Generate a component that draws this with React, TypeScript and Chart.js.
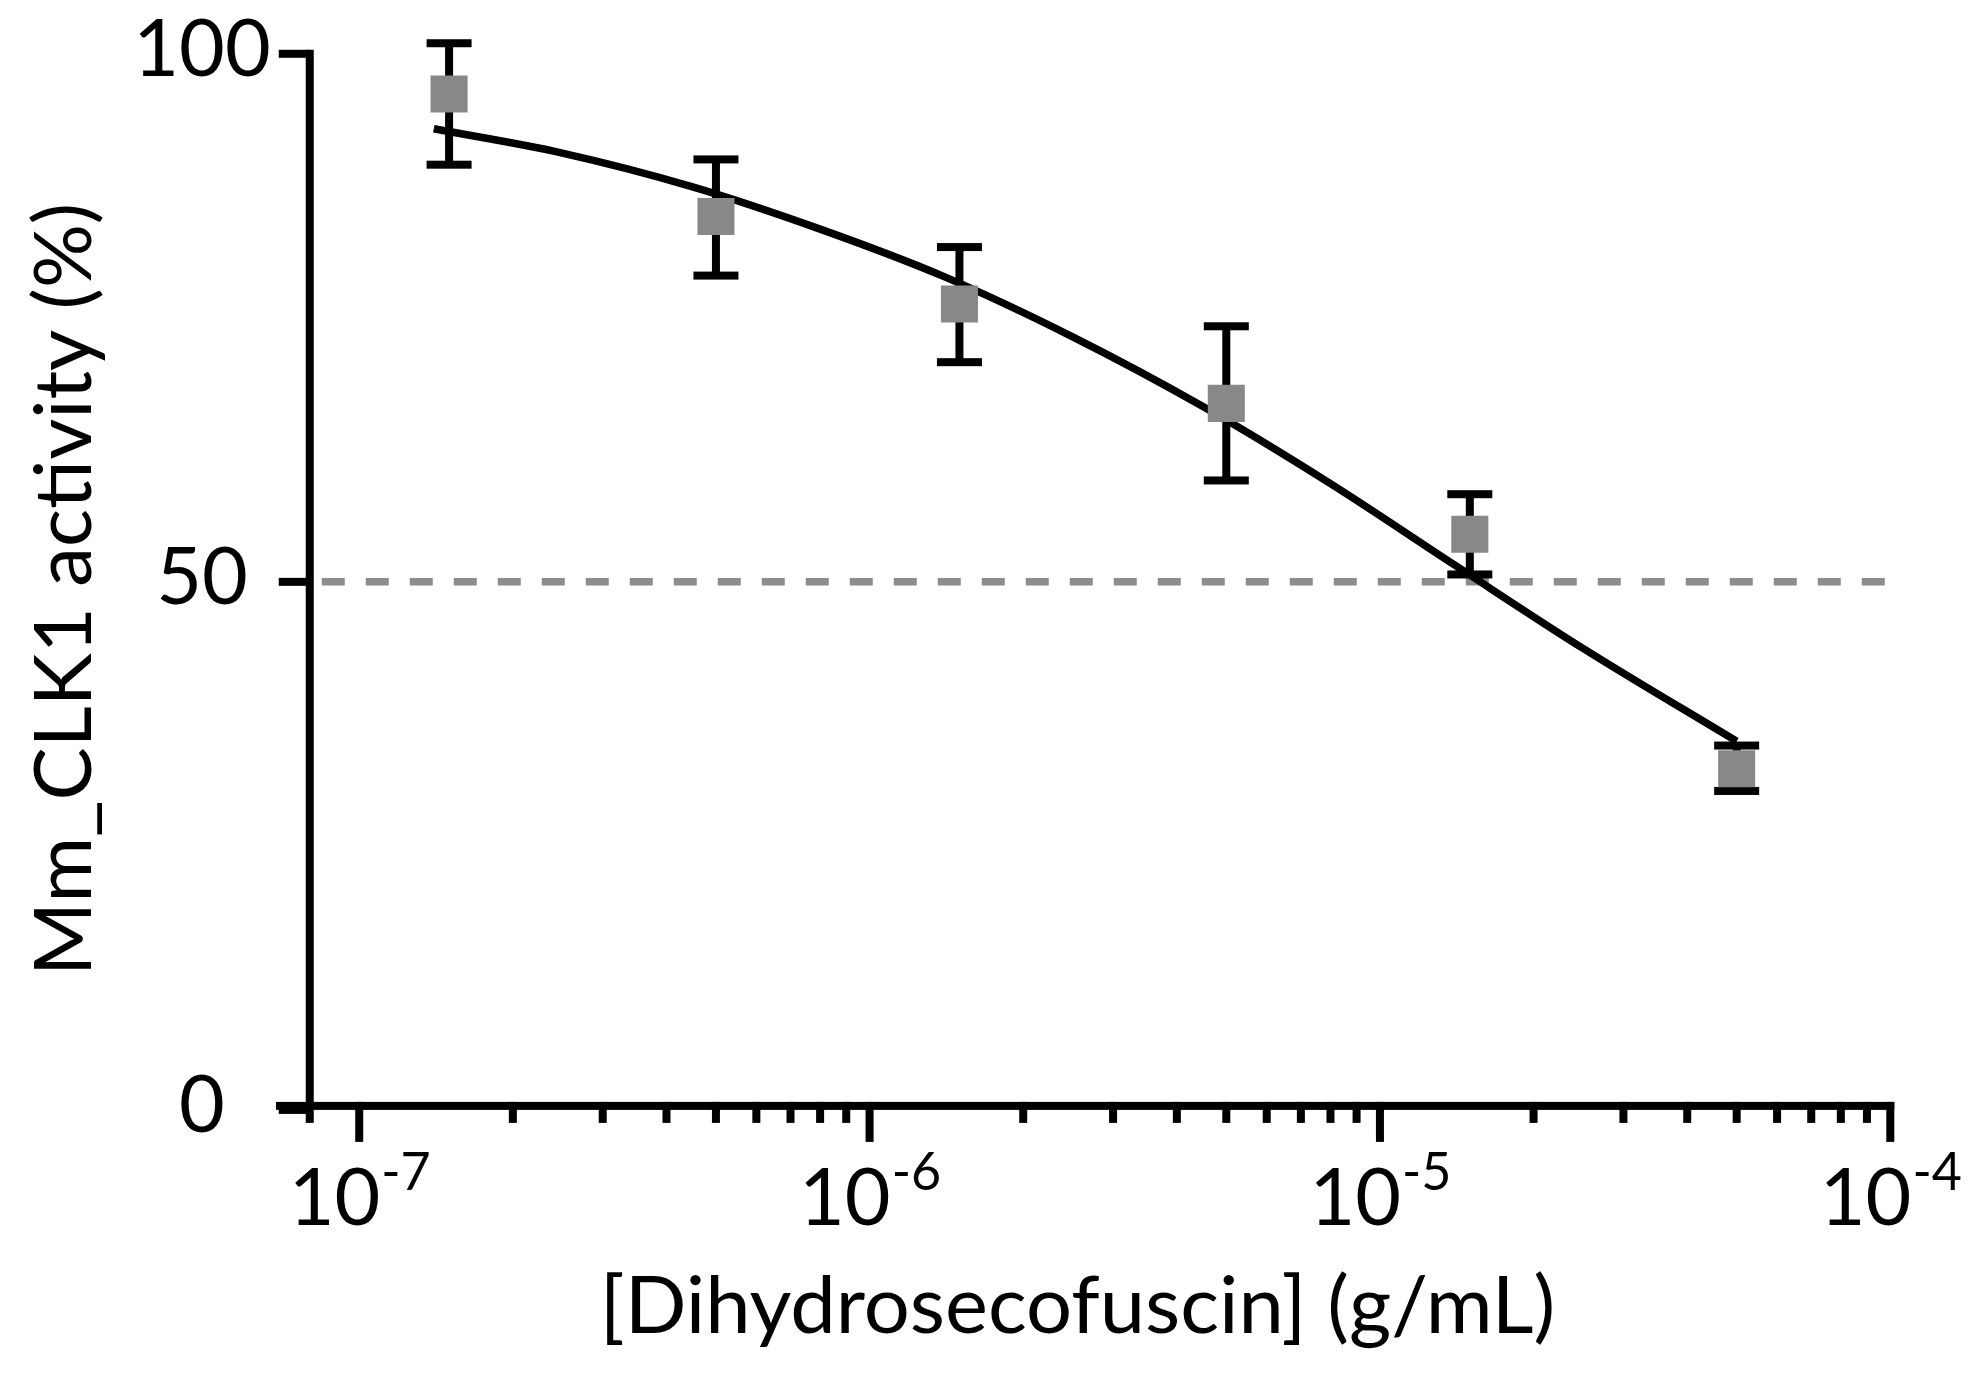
import { useEffect, useRef } from "react";
import { Chart, registerables } from "chart.js";

Chart.register(...registerables);

// measured points (mean with upper / lower error bar ends)
const concentrations = [1.5e-7, 5e-7, 1.5e-6, 5e-6, 1.5e-5, 5e-5];
const activity = [96.2, 84.6, 76.3, 66.9, 54.5, 32.3];
const errHigh = [101.0, 90.0, 81.7, 74.2, 58.3, 34.5];
const errLow = [89.5, 79.0, 70.8, 59.6, 50.7, 30.2];

// fitted curve
const fitX = [1.4e-7, 2.5e-7, 4.5e-7, 8e-7, 1.4e-6, 2.5e-6, 4.5e-6, 8e-6, 1.4e-5, 2.5e-5, 5e-5];
const fitY = [92.9, 90.6, 87.4, 83.4, 78.9, 73.2, 66.6, 59.3, 51.6, 43.7, 34.9];

const yTicks = [0, 50, 100];
const xMajorTicks = [1e-7, 1e-6, 1e-5, 1e-4];
const xExponents = ["-7", "-6", "-5", "-4"];
const xMinorSteps = [2, 3, 4, 5, 6, 7, 8, 9];
const halfLine = 50;
const yAxisAt = 8e-8;

const xTitle = "[Dihydrosecofuscin] (g/mL)";
const yTitle = "Mm_CLK1 activity (%)";

const FONT = "Lato";

// draw text so that its ink runs from `start` over `length` pixels
function fitText(ctx: CanvasRenderingContext2D, text: string, start: number, length: number) {
  const m = ctx.measureText(text);
  const ink = m.actualBoundingBoxLeft + m.actualBoundingBoxRight;
  ctx.translate(start, 0);
  ctx.scale(length / ink, 1);
  ctx.fillText(text, m.actualBoundingBoxLeft, 0);
}

const axesPlugin = {
  id: "prismAxes",
  beforeDatasetsDraw(chart: any) {
    const { ctx, chartArea } = chart;
    const xs = chart.scales.x;
    const ys = chart.scales.y;
    const y0 = ys.getPixelForValue(0);
    const xRight = xs.getPixelForValue(1e-4);
    const yAxisX = xs.getPixelForValue(yAxisAt);

    ctx.save();

    // dashed 50% line
    ctx.strokeStyle = "#8c8c8c";
    ctx.lineWidth = 7.5;
    ctx.setLineDash([23, 21]);
    const y50 = ys.getPixelForValue(halfLine);
    ctx.beginPath();
    ctx.moveTo(yAxisX + 12, y50);
    ctx.lineTo(xRight, y50);
    ctx.stroke();
    ctx.setLineDash([]);

    ctx.fillStyle = "#000";

    // y axis line and ticks
    const yTop = ys.getPixelForValue(100) - 4;
    ctx.fillRect(yAxisX - 4, yTop, 8, y0 + 13 - yTop);
    ctx.font = `79px ${FONT}`;
    ctx.textAlign = "center";
    ctx.textBaseline = "alphabetic";
    yTicks.forEach((v) => {
      const py = ys.getPixelForValue(v);
      ctx.fillRect(yAxisX - 31, py - 4, 31, 8);
      ctx.fillText(String(v), 202, py + 22);
    });

    // x axis line and ticks
    ctx.fillRect(chartArea.left, y0 - 8, xRight + 4 - chartArea.left, 8);
    xMajorTicks.forEach((v, i) => {
      const px = xs.getPixelForValue(v);
      ctx.fillRect(px - 4, y0 - 8, 8, 40);
      if (i < xMajorTicks.length - 1) {
        xMinorSteps.forEach((m) => {
          const mx = xs.getPixelForValue(v * m);
          ctx.fillRect(mx - 4, y0 - 8, 8, 21);
        });
      }
      // label 10^n
      ctx.textAlign = "left";
      ctx.font = `79px ${FONT}`;
      const wb = ctx.measureText("10").width;
      ctx.font = `52px ${FONT}`;
      const ws = ctx.measureText(xExponents[i]).width;
      const start = px - (wb + ws) / 2;
      ctx.font = `79px ${FONT}`;
      ctx.fillText("10", start, y0 + 115);
      ctx.font = `52px ${FONT}`;
      ctx.fillText(xExponents[i], start + wb + 1, y0 + 80);
    });

    // titles
    ctx.font = `79px ${FONT}`;
    ctx.textAlign = "left";
    ctx.save();
    ctx.translate(0, y0 + 223);
    fitText(ctx, xTitle, 607, 945);
    ctx.restore();

    ctx.save();
    ctx.translate(91, 969);
    ctx.rotate(-Math.PI / 2);
    fitText(ctx, yTitle, 0, 763);
    ctx.restore();

    ctx.restore();
  },
  afterDatasetDraw(chart: any, args: any) {
    if (args.index !== 1) return;
    const { ctx } = chart;
    const xs = chart.scales.x;
    const ys = chart.scales.y;
    ctx.save();
    ctx.fillStyle = "#000";
    concentrations.forEach((c, i) => {
      const px = xs.getPixelForValue(c);
      const hi = ys.getPixelForValue(errHigh[i]);
      const lo = ys.getPixelForValue(errLow[i]);
      ctx.fillRect(px - 4, hi, 8, lo - hi);
      ctx.fillRect(px - 22.5, hi - 4, 45, 8);
      ctx.fillRect(px - 22.5, lo - 4, 45, 8);
    });
    ctx.restore();
  },
};

export default function App() {
  const canvasRef = useRef<HTMLCanvasElement>(null);

  useEffect(() => {
    if (!canvasRef.current) return;

    const chart = new Chart(canvasRef.current, {
      type: "scatter",
      data: {
        datasets: [
          {
            label: "Activity",
            data: concentrations.map((c, i) => ({ x: c, y: activity[i] })),
            pointStyle: "rect",
            pointRadius: 26.2,
            pointHoverRadius: 26.2,
            backgroundColor: "#888888",
            borderWidth: 0,
            clip: false,
          },
          {
            type: "line",
            label: "Fit",
            data: fitX.map((x, i) => ({ x, y: fitY[i] })),
            borderColor: "#000",
            borderWidth: 7.5,
            pointRadius: 0,
            fill: false,
            cubicInterpolationMode: "monotone",
            clip: false,
          },
        ],
      },
      options: {
        animation: false,
        responsive: false,
        events: [],
        layout: {
          padding: { left: 276, right: 84.7, top: 53.8, bottom: 272.1 },
        },
        plugins: {
          legend: { display: false },
          tooltip: { enabled: false },
        },
        scales: {
          x: { type: "logarithmic", min: 6.87e-8, max: 1e-4, display: false },
          y: { type: "linear", min: 0, max: 100, display: false },
        },
      },
      plugins: [axesPlugin],
    });

    return () => {
      chart.destroy();
    };
  }, []);

  return (
    <div style={{ position: "absolute", left: 0, top: 0, background: "#fff" }}>
      <canvas ref={canvasRef} width={1975} height={1382}></canvas>
    </div>
  );
}
